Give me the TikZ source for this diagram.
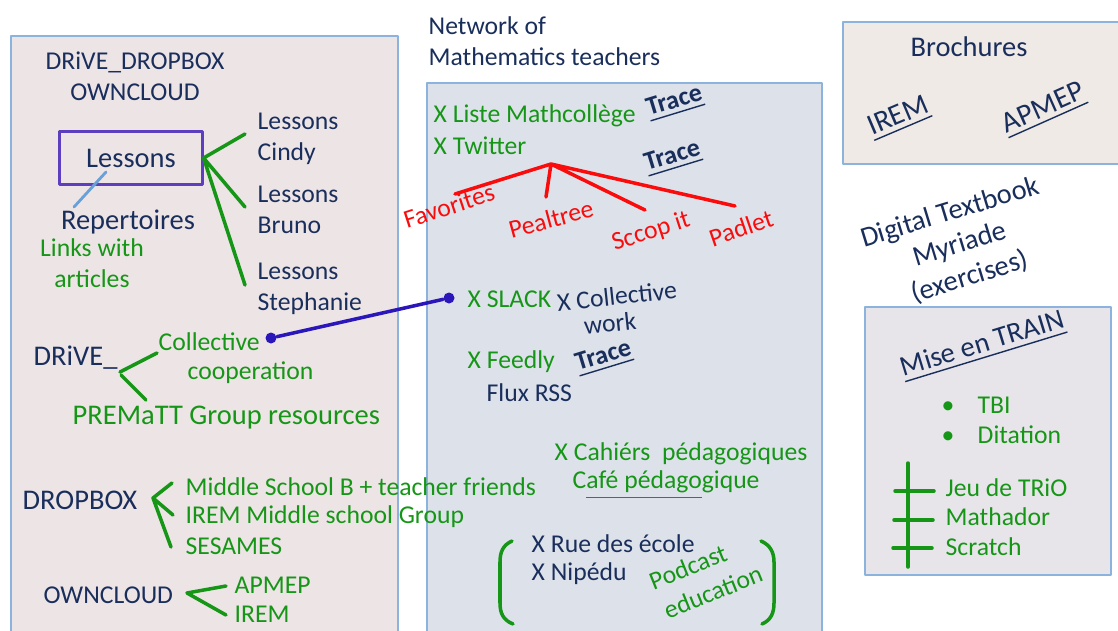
\documentclass[tikz,border=0pt]{standalone}
\usepackage{fontspec}
\setmainfont{Carlito}
\definecolor{navy}{RGB}{26,46,92}
\definecolor{grn}{RGB}{22,150,22}
\definecolor{rd}{RGB}{250,12,12}
\definecolor{edge}{RGB}{140,178,222}
\definecolor{leftbg}{RGB}{237,228,230}
\definecolor{midbg}{RGB}{221,226,234}
\definecolor{brbg}{RGB}{239,234,229}
\definecolor{trbg}{RGB}{231,229,234}
\definecolor{boxviolet}{RGB}{92,62,190}
\definecolor{dotblue}{RGB}{42,22,185}
\definecolor{lblue}{RGB}{105,160,215}
\begin{document}
\begin{tikzpicture}[x=0.01cm, y=-0.01cm, line join=round, line cap=round,
    navytxt/.style={inner sep=0pt, text=navy, font=\fontsize{7.3}{8.8}\selectfont},
    greentxt/.style={navytxt, text=grn},
    redtxt/.style={navytxt, text=rd},
    big/.style={font=\fontsize{8.1}{9.6}\selectfont},
    trace/.style={navytxt, font=\fontsize{7.4}{8.8}\selectfont\bfseries, rotate=17},
    panel/.style={draw=edge, line width=0.5pt},
    gl/.style={grn, line width=1pt},
    rl/.style={rd, line width=1pt}]
	\useasboundingbox (0,0) rectangle (1118,630);
	\clip (0,0) rectangle (1118,630);
	\draw[panel, fill=leftbg] (11,36) rectangle (398,640);
	\draw[panel, fill=midbg] (427,83) rectangle (822,640);
	\draw[panel, fill=brbg] (843,22) rectangle (1130,164);
	\draw[panel, fill=trbg] (865,307) rectangle (1111,575);
	% left panel
	\node[navytxt, align=center] (store) at (135,76) {DRiVE\_DROPBOX\\OWNCLOUD};
	\node[navytxt, big, draw=boxviolet, line width=0.6pt, minimum width=1.43cm, minimum height=0.53cm] (lessons) at (131,158) {Lessons};
	\node[navytxt, big] (rep) at (128,222) {Repertoires};
	\node[greentxt, align=center] (links) at (92,263) {Links with\\articles};
	\node[navytxt, align=left, anchor=west] (cindy) at (257,139) {Lessons\\Cindy};
	\node[navytxt, align=left, anchor=west] (bruno) at (257,210) {Lessons\\Bruno};
	\node[navytxt, align=left, anchor=west] (steph) at (257,289) {Lessons\\Stephanie};
	\coordinate (repend) at (74,207);
	\coordinate (c1) at (245,134);
	\coordinate (c2) at (245,207);
	\coordinate (c3) at (245,285);
	\draw[lblue, line width=0.8pt] ([shift={(-25,14)}]lessons.center) -- (repend);
	\draw[gl] (c1) -- (lessons.east) -- (c2) (lessons.east) -- (c3);
	\node[navytxt, big, anchor=west] (drive) at (33,358) {DRiVE\_};
	\node[greentxt, anchor=west] (coll) at (158,342) {Collective};
	\node[greentxt, anchor=west] (coop) at (187,373) {cooperation};
	\node[greentxt, big, anchor=west] (prem) at (72,418) {PREMaTT Group resources};
	\coordinate (dv) at (120,372);
	\coordinate (dv1) at (157,353);
	\coordinate (dv2) at (146,400);
	\draw[gl] (dv1) -- (dv) (dv) ++(1,3) -- (dv2);
	\node[navytxt, big, anchor=west] (dropbox) at (22,500) {DROPBOX};
	\node[greentxt, anchor=west] (msb) at (185,487) {Middle School B + teacher friends};
	\node[greentxt, anchor=west] (iremg) at (185,517) {IREM Middle school Group};
	\node[greentxt, anchor=west] (ses) at (185,546) {SESAMES};
	\coordinate (dp) at (153,498);
	\coordinate (dp1) at (172,483);
	\coordinate (dp2) at (173,515);
	\coordinate (dp3) at (171,547);
	\draw[gl] (dp1) -- (dp) -- (dp2) (dp) -- (dp3);
	\node[navytxt, anchor=west] (owncl) at (43,595) {OWNCLOUD};
	\node[greentxt, anchor=west] (apmep1) at (234,585) {APMEP};
	\node[greentxt, anchor=west] (irem1) at (234,614) {IREM};
	\coordinate (oc) at (187,593);
	\coordinate (oc1) at (226,586);
	\coordinate (oc2) at (226,615);
	\draw[gl] (oc1) -- (oc) -- (oc2);
	% network panel
	\node[navytxt, align=left, anchor=west] (net) at (428,41) {Network of\\Mathematics teachers};
	\node[greentxt, anchor=west] (liste) at (433,116) {X Liste Mathcollège};
	\node[greentxt, anchor=west] (twit) at (433,146) {X Twitter};
	\node[trace] (trA) at (675,103) {\underline{Trace}};
	\node[trace] (trB) at (673,158) {\underline{Trace}};
	\node[redtxt, rotate=18] (fav) at (449,206) {Favorites};
	\node[redtxt, rotate=15] (peal) at (551,219) {Pealtree};
	\node[redtxt, rotate=18] (sccop) at (651,232) {Sccop it};
	\node[redtxt, rotate=19] (padlet) at (741,228) {Padlet};
	\coordinate (rv) at (551,164);
	\coordinate (r1) at (455,194);
	\coordinate (r2) at (546,197);
	\coordinate (r3) at (645,210);
	\coordinate (r4) at (735,206);
	\draw[rl] (r1) -- (rv) -- (r2) (rv) -- (r3) (rv) -- (r4);
	\node[greentxt, anchor=west] (slack) at (467,299) {X SLACK};
	\node[navytxt, rotate=6] (collw) at (617,296) {X Collective};
	\node[navytxt, rotate=6] (work) at (610,323) {work};
	\node[circle, fill=dotblue, inner sep=0pt, minimum size=0.11cm] (dotA) at (271,338) {};
	\node[circle, fill=dotblue, inner sep=0pt, minimum size=0.11cm] (dotB) at (449,298) {};
	\draw[dotblue, line width=1pt] (dotA) -- (dotB);
	\node[greentxt, anchor=west] (feedly) at (467,362) {X Feedly};
	\node[trace] (trC) at (604,358) {\underline{Trace}};
	\node[navytxt, anchor=west] (flux) at (486,393) {Flux RSS};
	\node[greentxt, anchor=west] (cahiers) at (554,454) {X Cahiérs~~pédagogiques};
	\node[greentxt, anchor=west] (cafe) at (572,485) {C\underline{afé pédago}gique};
	\node[navytxt, anchor=west] (rue) at (531,544) {X Rue des école};
	\node[navytxt, anchor=west] (nip) at (531,574) {X Nipédu};
	\node[greentxt, rotate=22] (podcast) at (688,567) {Podcast};
	\node[greentxt, rotate=22] (educ) at (713,592) {education};
	\draw[gl] (512,541) .. controls (503,545) and (500,552) .. (500,562) -- (500,603) .. controls (500,613) and (503,620) .. (513,624);
	\draw[gl] (761,541) .. controls (770,545) and (774,552) .. (774,562) -- (774,603) .. controls (774,613) and (771,620) .. (762,624);
	% right side
	\node[navytxt, big] (broch) at (969,47) {Brochures};
	\node[navytxt, font=\fontsize{8.4}{9.6}\selectfont, rotate=23] (irem2) at (899,118) {\underline{IREM}};
	\node[navytxt, font=\fontsize{8.4}{9.6}\selectfont, rotate=24] (apmep2) at (1044,110) {\underline{APMEP}};
	\node[navytxt, big, align=center, rotate=17] (digital) at (960,245) {Digital Textbook\\Myriade\\(exercises)};
	\node[navytxt, big, rotate=17] (train) at (983,346) {\underline{Mise en TRAIN}};
	\node[greentxt, anchor=west] (tbi) at (941,405) {\makebox[0.36cm][l]{•}TBI};
	\node[greentxt, anchor=west] (dit) at (941,435) {\makebox[0.36cm][l]{•}Ditation};
	\node[greentxt, anchor=west] (trio) at (945,488) {Jeu de TRiO};
	\node[greentxt, anchor=west] (matha) at (945,517) {Mathador};
	\node[greentxt, anchor=west] (scratch) at (945,547) {Scratch};
	\draw[gl] (908,463) -- (908,567) (895,491) -- (934,491) (894,520) -- (933,520) (893,548) -- (932,548);
\end{tikzpicture}
\end{document}
